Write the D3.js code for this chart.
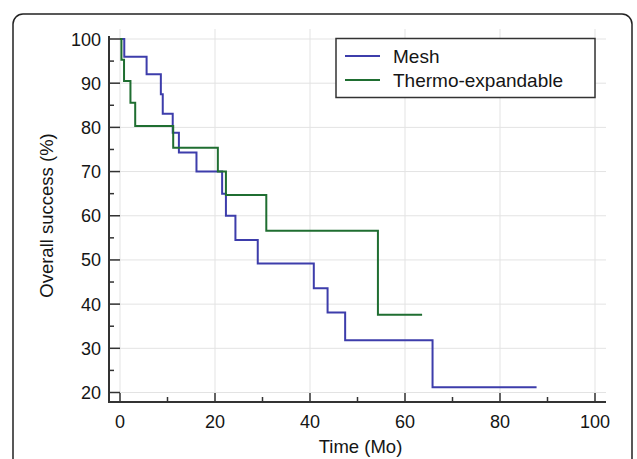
<!DOCTYPE html>
<html>
<head>
<meta charset="utf-8">
<script src="https://cdn.jsdelivr.net/npm/d3@7"></script>
<style>
  html, body { margin: 0; padding: 0; background: #fff; }
  svg { display: block; }
  text { font-family: "Liberation Sans", Arial, sans-serif; fill: #151515; }
</style>
</head>
<body>
<svg id="chart" width="637" height="459"></svg>
<script>
// ---- data ----
const meshTimes  = [0, 0.9, 5.6, 8.6, 9.0, 11.1, 12.4, 16.1, 21.5, 22.3, 24.3, 29.0, 40.8, 43.7, 47.4, 65.8, 87.7];
const meshValues = [100, 96.0, 92.0, 87.5, 83.1, 78.8, 74.3, 70.0, 65.0, 60.0, 54.5, 49.2, 43.6, 38.1, 31.8, 21.2, 21.2];
const thermoTimes  = [0, 0.3, 0.85, 2.2, 3.2, 11.2, 20.6, 22.3, 30.8, 54.3, 63.6];
const thermoValues = [100, 95.3, 90.5, 85.6, 80.3, 75.4, 70.0, 64.7, 56.6, 37.6, 37.6];
const seriesNames = ["Mesh", "Thermo-expandable"];
const xTicks = [0, 20, 40, 60, 80, 100];
const xMinorTicks = [10, 30, 50, 70, 90];
const yTicks = [20, 30, 40, 50, 60, 70, 80, 90, 100];
const yMinorTicks = [25, 35, 45, 55, 65, 75, 85, 95];
const xTitle = "Time (Mo)";
const yTitle = "Overall success (%)";

// ---- layout ----
const colors = ["#3d3dab", "#1f6e31"];
const svg = d3.select("#chart");
const plot = { left: 109, right: 606, top: 29, bottom: 402 };
const x = d3.scaleLinear().domain([0, 100]).range([120, 595]);
const y = d3.scaleLinear().domain([20, 100]).range([392.5, 39]);

// outer frame
svg.append("rect")
  .attr("x", 13).attr("y", 14).attr("width", 619).attr("height", 470)
  .attr("rx", 10).attr("ry", 10)
  .attr("fill", "none").attr("stroke", "#222").attr("stroke-width", 1.5);

// gridlines
const grid = svg.append("g").attr("stroke", "#e3e3e3").attr("stroke-width", 1);
grid.selectAll("line.v").data(xTicks).join("line")
  .attr("x1", d => x(d)).attr("x2", d => x(d))
  .attr("y1", plot.top).attr("y2", plot.bottom);
grid.selectAll("line.h").data(yTicks).join("line")
  .attr("x1", plot.left).attr("x2", plot.right)
  .attr("y1", d => y(d)).attr("y2", d => y(d));

// series
const line = d3.line().curve(d3.curveStepAfter).x(d => x(d[0])).y(d => y(d[1]));
const series = [
  d3.zip(meshTimes, meshValues),
  d3.zip(thermoTimes, thermoValues)
];
series.forEach((s, i) => {
  svg.append("path").datum(s)
    .attr("d", line)
    .attr("fill", "none")
    .attr("stroke", colors[i])
    .attr("stroke-width", 2)
    .attr("stroke-linejoin", "miter");
});

// axes
const axisColor = "#333";
const ax = svg.append("g").attr("stroke", axisColor);
ax.append("line").attr("x1", plot.left).attr("x2", plot.right)
  .attr("y1", plot.bottom).attr("y2", plot.bottom).attr("stroke-width", 2);
ax.append("line").attr("x1", plot.left).attr("x2", plot.left)
  .attr("y1", plot.bottom + 1).attr("y2", 36).attr("stroke-width", 2);

ax.selectAll("line.xt").data(xTicks).join("line")
  .attr("x1", d => x(d)).attr("x2", d => x(d))
  .attr("y1", plot.bottom).attr("y2", plot.bottom - 9).attr("stroke-width", 1.5);
ax.selectAll("line.xm").data(xMinorTicks).join("line")
  .attr("x1", d => x(d)).attr("x2", d => x(d))
  .attr("y1", plot.bottom).attr("y2", plot.bottom - 5).attr("stroke-width", 1.5);
ax.selectAll("line.yt").data(yTicks).join("line")
  .attr("x1", plot.left).attr("x2", plot.left + 11)
  .attr("y1", d => y(d)).attr("y2", d => y(d)).attr("stroke-width", 1.5);
ax.selectAll("line.ym").data(yMinorTicks).join("line")
  .attr("x1", plot.left).attr("x2", plot.left + 5)
  .attr("y1", d => y(d)).attr("y2", d => y(d)).attr("stroke-width", 1.5);

// tick labels
svg.append("g").selectAll("text").data(xTicks).join("text")
  .attr("x", d => x(d)).attr("y", 428)
  .attr("text-anchor", "middle").attr("font-size", 18)
  .text(d => d);
svg.append("g").selectAll("text").data(yTicks).join("text")
  .attr("x", 101).attr("y", d => y(d) + 6.5)
  .attr("text-anchor", "end").attr("font-size", 18)
  .text(d => d);

// titles
svg.append("text").attr("x", (plot.left + plot.right) / 2 + 3).attr("y", 453)
  .attr("text-anchor", "middle").attr("font-size", 18.5).text(xTitle);
svg.append("text")
  .attr("transform", `translate(53,${(plot.top + plot.bottom) / 2}) rotate(-90)`)
  .attr("text-anchor", "middle").attr("font-size", 18.5).text(yTitle);

// legend
const lg = svg.append("g");
lg.append("rect").attr("x", 336).attr("y", 38.5).attr("width", 259).attr("height", 59)
  .attr("fill", "#fff").attr("stroke", "#333").attr("stroke-width", 1.5);
seriesNames.forEach((name, i) => {
  const yy = 56 + i * 24;
  lg.append("line").attr("x1", 345).attr("x2", 380).attr("y1", yy).attr("y2", yy)
    .attr("stroke", colors[i]).attr("stroke-width", 2);
  lg.append("text").attr("x", 393).attr("y", yy + 7).attr("font-size", 19).text(name);
});
</script>
</body>
</html>
